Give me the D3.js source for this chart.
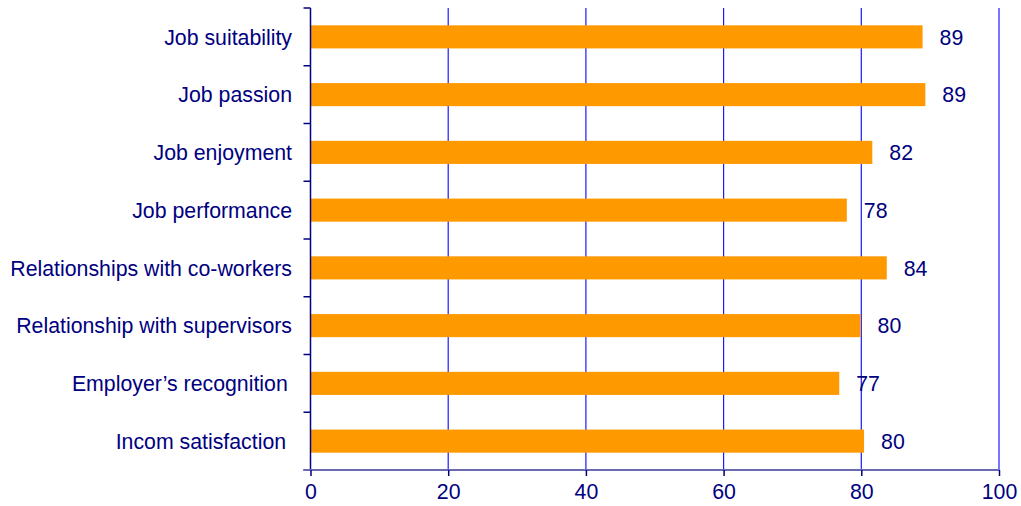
<!DOCTYPE html>
<html><head><meta charset="utf-8">
<script src="https://cdn.jsdelivr.net/npm/d3@7"></script>
<style>html,body{margin:0;padding:0;background:#fff;}svg{display:block;font-family:"Liberation Sans",Arial,sans-serif;}</style>
</head><body><svg id="c" width="1021" height="506"></svg>
<script>
const categories = ["Job suitability","Job passion","Job enjoyment","Job performance","Relationships with co-workers","Relationship with supervisors","Employer\u2019s recognition\u2009","Incom satisfaction\u00A0"];
const values = [88.9, 89.3, 81.6, 77.9, 83.7, 79.9, 76.8, 80.4];
const valueLabels = ["89","89","82","78","84","80","77","80"];
const xTicks = [0,20,40,60,80,100];

const svg = d3.select("#c");
const m = {l:310.5, r:999, t:8, b:470};
const x = d3.scaleLinear().domain([0,100]).range([m.l, m.r]);
const y = d3.scaleBand().domain(categories).range([m.t, m.b]).paddingInner(0.6).paddingOuter(0.3);
const yb = d3.scaleBand().domain(categories).range([m.t, m.b]);
const navy = "#000080";
const fs = 21.3;

// gridlines
svg.append("g").selectAll("line").data(xTicks.slice(1)).join("line")
  .attr("x1", d=>x(d)).attr("x2", d=>x(d)).attr("y1", m.t).attr("y2", m.b)
  .attr("stroke", "#1a1aff").attr("stroke-width", 1.2);

// bars
svg.append("g").selectAll("rect").data(categories).join("rect")
  .attr("x", x(0)).attr("y", d=>y(d)).attr("width", (d,i)=>x(values[i])-x(0))
  .attr("height", y.bandwidth()).attr("fill", "#ff9900");

// value labels
svg.append("g").selectAll("text").data(categories).join("text")
  .attr("x", (d,i)=>x(values[i]) + 17).attr("y", d=>y(d)+y.bandwidth()/2)
  .attr("dy", "0.36em").attr("fill", navy).attr("font-size", fs)
  .text((d,i)=>valueLabels[i]);

// y axis line and ticks
svg.append("line").attr("x1", m.l).attr("x2", m.l).attr("y1", m.t).attr("y2", m.b)
  .attr("stroke", navy).attr("stroke-width", 1.5);
const bounds = categories.map(c=>yb(c)).concat([m.b]);
svg.append("g").selectAll("line").data(bounds).join("line")
  .attr("x1", m.l-7).attr("x2", m.l).attr("y1", d=>d).attr("y2", d=>d)
  .attr("stroke", navy).attr("stroke-width", 1.5);
svg.append("g").selectAll("text").data(categories).join("text")
  .attr("x", 292).attr("y", d=>y(d)+y.bandwidth()/2).attr("dy","0.36em")
  .attr("text-anchor","end").attr("fill", navy).attr("font-size", fs)
  .style("white-space","pre").text(d=>d);

// x axis
const xa = svg.append("g").attr("transform", `translate(0,${m.b})`)
  .call(d3.axisBottom(x).tickValues(xTicks).tickSize(6).tickPadding(8).tickSizeOuter(0));
xa.select(".domain").attr("stroke", "#6a6ab0").attr("stroke-width", 2)
  .attr("d", `M${m.l-7},0H${m.r}`);
xa.selectAll(".tick line").attr("stroke", navy).attr("stroke-width", 1.5);
xa.selectAll(".tick text").attr("fill", navy).attr("font-size", fs)
  .attr("font-family", "'Liberation Sans',Arial,sans-serif");
</script></body></html>
